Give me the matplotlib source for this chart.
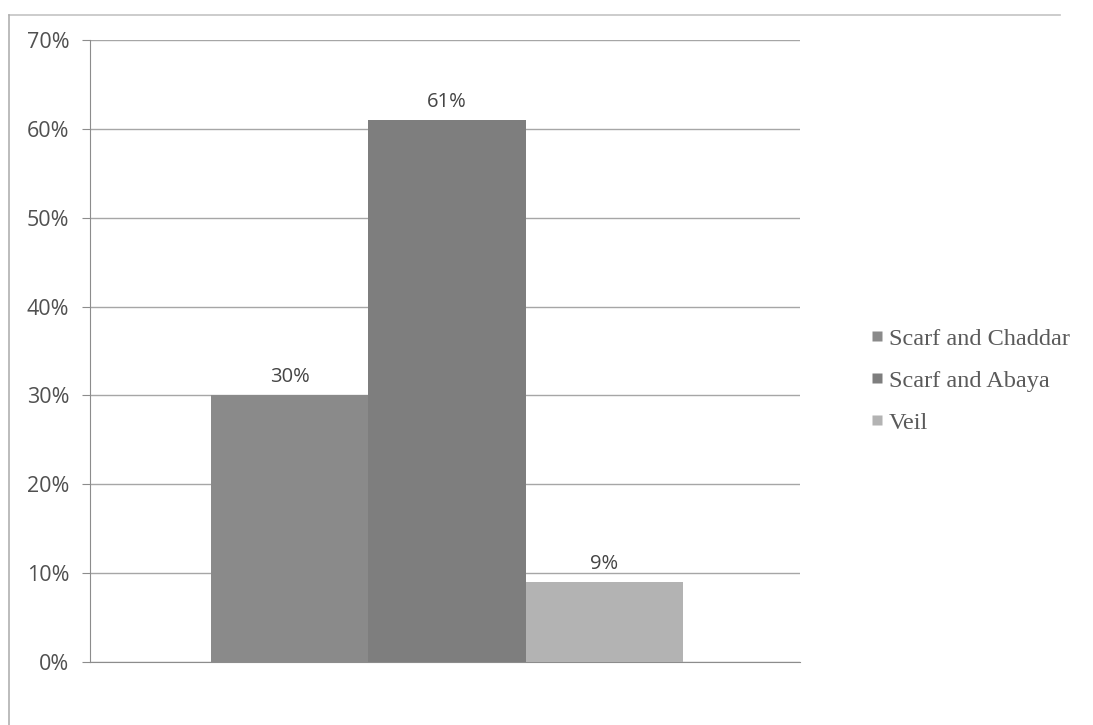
import matplotlib
matplotlib.use("Agg")
import matplotlib.pyplot as plt
from matplotlib.lines import Line2D
from matplotlib.ticker import PercentFormatter

categories = ["Scarf and Chaddar", "Scarf and Abaya", "Veil"]
values = [30, 61, 9]
labels = ["30%", "61%", "9%"]
colors = ["#8a8a8a", "#7e7e7e", "#b3b3b3"]
y_ticks = [0, 10, 20, 30, 40, 50, 60, 70]

fig = plt.figure(figsize=(10.93, 7.25), dpi=100)
fig.patch.set_facecolor("white")

# chart frame edges (top and left)
fig.add_artist(Line2D([9 / 1093, 1060 / 1093], [1 - 15 / 725, 1 - 15 / 725],
                      transform=fig.transFigure, color="#c4c4c4", linewidth=1.2))
fig.add_artist(Line2D([9 / 1093, 9 / 1093], [0, 1 - 15 / 725],
                      transform=fig.transFigure, color="#b0b0b0", linewidth=1.2))

ax = fig.add_axes([90 / 1093, 1 - 662 / 725, 710 / 1093, 622 / 725])
positions = [-1, 0, 1]
ax.bar(positions, values, width=1.0, color=colors, edgecolor="none", zorder=3)

for x, v, t in zip(positions, values, labels):
    ax.annotate(t, (x, v), xytext=(0, 6), textcoords="offset points",
                ha="center", va="bottom", fontsize=14.5, color="#454545",
                family="Open Sans")

ax.set_xlim(-2.27, 2.245)
ax.set_ylim(0, 70)
ax.set_yticks(y_ticks)
ax.yaxis.set_major_formatter(PercentFormatter(decimals=0))
ax.set_xticks([])
ax.grid(axis="y", color="#a6a6a6", linewidth=1.0, zorder=0)
for s in ["top", "right"]:
    ax.spines[s].set_visible(False)
ax.spines["left"].set_color("#8c8c8c")
ax.spines["bottom"].set_color("#8c8c8c")
ax.tick_params(axis="y", length=6, color="#8c8c8c", labelcolor="#505050",
               labelsize=15.5, pad=9)
for lab in ax.get_yticklabels():
    lab.set_family("Open Sans")

handles = [Line2D([], [], marker="s", linestyle="none", markersize=7,
                  markerfacecolor=c, markeredgecolor="none") for c in colors]
fig.legend(handles, categories, loc="upper left",
           bbox_to_anchor=(855 / 1093, 1 - 318 / 725), frameon=False,
           prop={"family": "Liberation Serif", "size": 17.5},
           labelcolor="#5a5a5a", handletextpad=0.0, labelspacing=0.82,
           handlelength=1.0, borderaxespad=0)

fig.savefig("out.png", dpi=100, facecolor="white")
